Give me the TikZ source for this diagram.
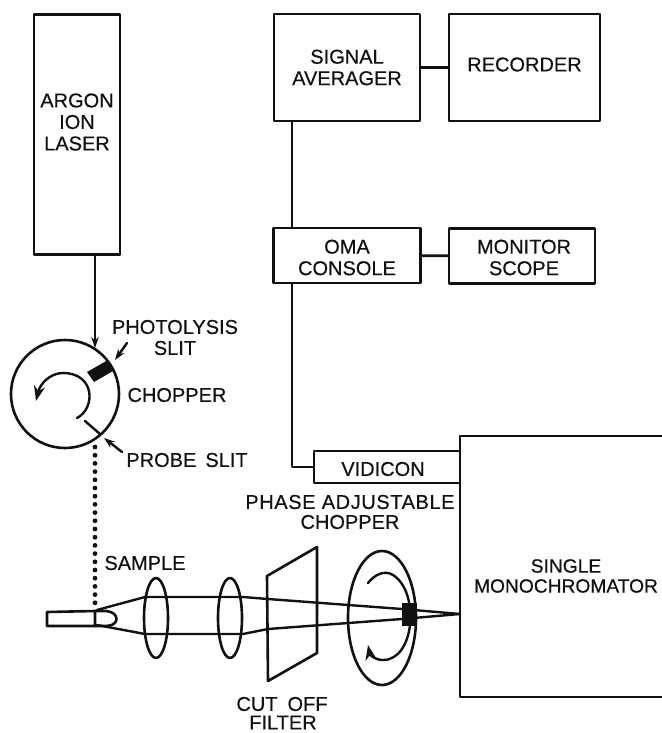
\documentclass[tikz,border=0pt]{standalone}
\usepackage{fontspec}
\setmainfont{Liberation Sans}[FakeBold=0.4]
\usetikzlibrary{arrows.meta,positioning,shapes.geometric}
\definecolor{spInk}{HTML}{111111}
\tikzset{
 bench/.style={x=1pt,y=-1pt,line cap=round,line join=round,text=spInk,
   font=\fontsize{20}{21.5}\selectfont},
 unit/.style={rectangle,draw=spInk,fill=white,line width=2.8pt,inner sep=0pt,align=center},
 tag/.style={inner sep=0pt,align=center,text=spInk},
 wire/.style={draw=spInk,line width=2.6pt},
 ray/.style={draw=spInk,line width=2.4pt},
 pointer/.style={draw=spInk,line width=2.4pt,-{Stealth[length=11pt,width=7.5pt]}},
 turn/.style={draw=spInk,line width=2.4pt,-{Stealth[length=15pt,width=11pt]}},
 probe/.style={draw=spInk,line width=4.8pt,dash pattern=on 0pt off 8.2pt},
 lens/.style={ellipse,draw=spInk,line width=2.6pt,inner sep=0pt,minimum width=24pt,minimum height=80pt},
 wheel/.style={draw=spInk,line width=2.6pt},
 slit/.style={fill=spInk}
}
\begin{document}
\begin{tikzpicture}[bench]
 \useasboundingbox[fill=white] (0,0) rectangle (661,733);
 % instruments
 \node[unit,minimum width=86pt,minimum height=240pt,label={[tag,yshift=12.5pt]center:{ARGON\\ION\\LASER}}] (laser) at (77,134.5) {};
 \node[unit,minimum width=146pt,minimum height=107pt] (averager) at (347,67.5) {SIGNAL\\AVERAGER};
 \node[unit,minimum width=151pt,minimum height=107pt,label={[tag,yshift=3pt]center:{RECORDER}}] (recorder) at (524.5,67.5) {};
 \node[unit,minimum width=147pt,minimum height=55pt,label={[tag,yshift=-2pt]center:{OMA\\CONSOLE}}] (oma) at (347,255.5) {};
 \node[unit,minimum width=146pt,minimum height=55pt,label={[tag,yshift=-1.5pt,xshift=2pt]center:{MONITOR\\SCOPE}}] (monitor) at (522,256) {};
 \node[unit,minimum width=146pt,minimum height=32pt,label={[tag,yshift=-2pt,xshift=-4pt]center:{VIDICON}}] (vidicon) at (387,467) {};
 \node[unit,minimum width=212pt,minimum height=261pt,label={[tag,yshift=-9.5pt,font=\fontsize{19.2}{20}\selectfont]center:{SINGLE\\MONOCHROMATOR}}] (mono) at (566,566.5) {};
 \coordinate (bus) at (292,400);
 \draw[wire] (averager) -- (recorder);
 \draw[wire] (oma) -- (monitor);
 \draw[wire] (averager.south -| bus) -- (oma.north -| bus);
 \draw[wire] (oma.south -| bus) |- (vidicon.west);
 % first chopper
 \node[circle,wheel,inner sep=0pt,minimum size=108pt] (chopper) at (65,394) {};
 \coordinate (beam) at (95,300);
 \draw[pointer] (laser.south -| beam) -- (95,348);
 \fill[slit] (87,372) -- (108,360) -- (113,371) -- (94,382) -- cycle;
 \draw[turn] (77,418) .. controls (96,408) and (95,373) .. (63,373) .. controls (50,373) and (40,384) .. (36,401);
 \draw[ray] (85,421) -- (100,434);
 \node[tag] (photolysis) at (175,327) {PHOTOLYSIS};
 \node[tag] (slitA) at (175,348) {SLIT};
 \node[tag] (chopname) at (177,395) {CHOPPER};
 \node[tag] (slitB) at (187,460) {PROBE\hspace{9pt}SLIT};
 \draw[pointer] (127,343) -- (115,360);
 \draw[pointer] (122,452) -- (104,438);
 % sample and probe path
 \coordinate (tube) at (95,606);
 \draw[probe] (95,447) -- (tube);
 \draw[wheel] (95,611) -- (47,612) -- (47,626) -- (95,626) -- cycle;
 \draw[wheel] (95,611) -- (106,611) .. controls (120,612) and (120,626) .. (106,626) -- (95,626);
 \node[tag] (sample) at (145,563) {SAMPLE};
 \draw[ray] (97,610) -- (145,597) -- (243,597) -- (268,599) -- (402,609) -- (460,614);
 \draw[ray] (97,625) -- (145,634) -- (243,634) -- (268,629) -- (402,619) -- (460,614);
 \node[lens] (lensA) at (156,618) {};
 \node[lens] (lensB) at (230,618) {};
 % filter
 \draw[wheel] (267,576) -- (317,547) -- (317,653) -- (268,681) -- cycle;
 \node[tag] (cutoff) at (282,704) {CUT\hspace{10pt}OFF};
 \node[tag] (filter) at (283,722.5) {FILTER};
 % second chopper
 \node[ellipse,wheel,inner sep=0pt,minimum width=68pt,minimum height=134pt] (phase) at (382,618) {};
 \fill[slit] (402,603) rectangle (417,626);
 \draw[turn] (368,583) .. controls (375,574) and (385,570) .. (393,575) .. controls (420,592) and (415,660) .. (383,660) .. controls (375,660) and (370,655) .. (368,645);
 \node[tag] (phasename) at (350,502) {\addfontfeature{LetterSpace=3}PHASE ADJUSTABLE};
 \node[tag] (phasechop) at (350,522) {CHOPPER};
\end{tikzpicture}
\end{document}
